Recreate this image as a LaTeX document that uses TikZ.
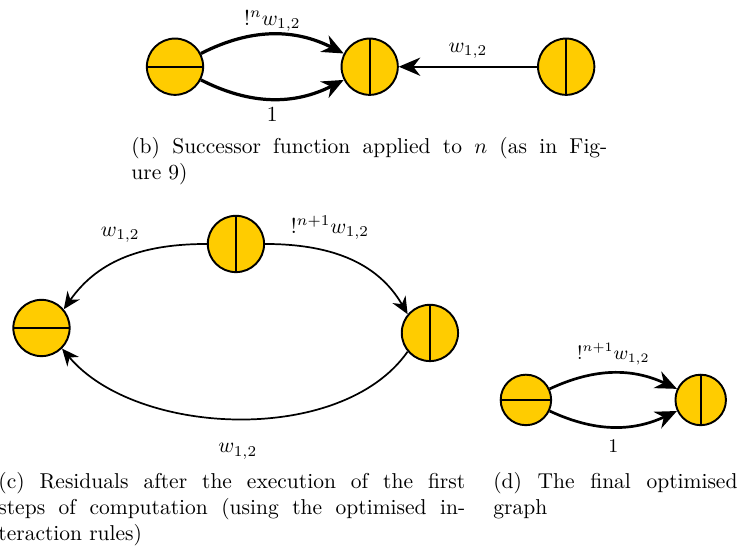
\documentclass[tikz,border=0pt]{standalone}
\usepackage{amsmath,amssymb}
\usepackage{tikz}
\usetikzlibrary{arrows.meta,positioning}
\usepackage{xcolor}
\definecolor{myyellow}{RGB}{255,204,0}

\begin{document}
\begin{tikzpicture}[
    agent/.style={circle,draw,fill=myyellow,line width=0.9pt,minimum size=0.92cm,inner sep=0pt},
    hsplit/.style={agent,path picture={\draw[line width=0.9pt] (path picture bounding box.west) -- (path picture bounding box.east);}},
    vsplit/.style={agent,path picture={\draw[line width=0.9pt] (path picture bounding box.north) -- (path picture bounding box.south);}},
    wire/.style={-{Stealth[length=8pt,width=7pt]}},
    bigwire/.style={-{Stealth[length=10pt,width=8.5pt]}},
    capbox/.style={anchor=north west,inner sep=0pt,align=justify}]
        \useasboundingbox (0,0) rectangle (12.11,-9.02);
        % (b) successor
        \node[hsplit] (b1) at (2.86,-1.09) {};
        \node[vsplit,right=2.23cm of b1] (b2) {};
        \node[vsplit,right=2.26cm of b2] (b3) {};
        \draw[bigwire,line width=1.5pt] (b1) to[bend left=27] node[above,inner sep=0.5pt] (lb1) {$!^n w_{1,2}$} (b2);
        \draw[bigwire,line width=1.5pt] (b1) to[bend right=27] node[below] (lb2) {$1$} (b2);
        \draw[bigwire,line width=0.9pt] (b3) -- node[above] (lb3) {$w_{1,2}$} (b2);
        \node[capbox,text width=7.78cm] (capb) at (2.14,-2.24) {(b) Successor function applied to $n$ (as in Fig-\linebreak ure~9)};
        % (c) residuals
        \node[vsplit] (c1) at (3.856,-3.987) {};
        \node[hsplit] (c2) at (0.678,-5.36) {};
        \node[vsplit] (c3) at (7.026,-5.441) {};
        \draw[wire,line width=0.8pt] (c1.west) to[out=180,in=55] node[pos=0.35,above left] (lc1) {$w_{1,2}$} (c2.40);
        \draw[wire,line width=0.8pt] (c1.east) to[out=0,in=120] node[pos=0.38,above=2pt] (lc2) {$!^{n+1}w_{1,2}$} (c3.140);
        \draw[wire,line width=0.8pt] (c3.220) to[out=235,in=-50,looseness=0.85] node[below=8pt] (lc3) {$w_{1,2}$} (c2.-45);
        \node[capbox,text width=7.63cm] (capc) at (-0.033,-7.712) {(c) Residuals after the execution of the first\linebreak steps of computation (using the optimised in-\linebreak teraction rules)};
        % (d) final graph
        \node[hsplit,minimum size=0.825cm] (d1) at (8.595,-6.536) {};
        \node[vsplit,minimum size=0.825cm,right=2.0cm of d1] (d2) {};
        \draw[bigwire,line width=1.25pt] (d1) to[bend left=25] node[above,font=\small] (ld1) {$!^{n+1}w_{1,2}$} (d2);
        \draw[bigwire,line width=1.25pt] (d1) to[bend right=25] node[below=2pt,font=\small] (ld2) {$1$} (d2);
        \node[capbox,text width=3.99cm] (capd) at (8.056,-7.712) {(d) The final optimised\linebreak graph};
\end{tikzpicture}
\end{document}
